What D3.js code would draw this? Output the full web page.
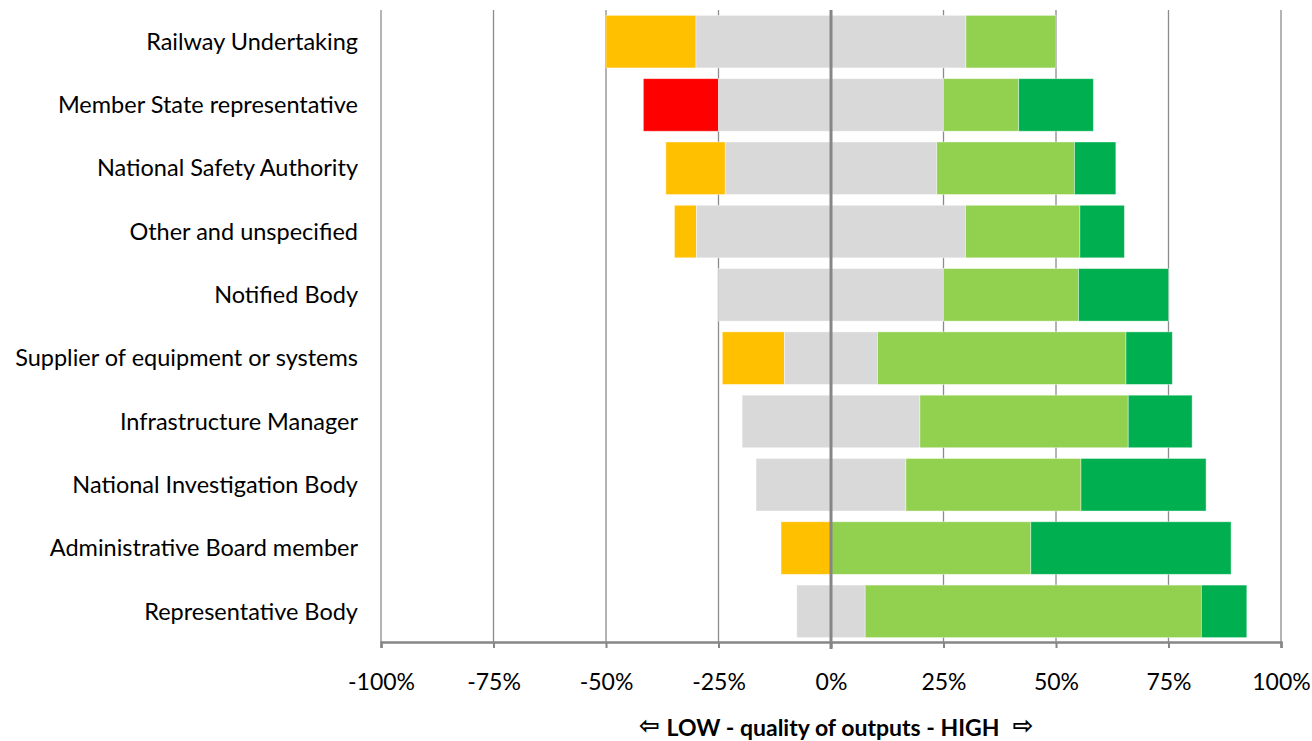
<!DOCTYPE html>
<html><head><meta charset="utf-8">
<script src="https://cdn.jsdelivr.net/npm/d3@7"></script>
<style>body{margin:0;background:#fff;}svg{display:block;}</style>
</head><body><svg id="c" width="1312" height="741"></svg>
<script>
const categories = ["Railway Undertaking","Member State representative","National Safety Authority","Other and unspecified","Notified Body","Supplier of equipment or systems","Infrastructure Manager","National Investigation Body","Administrative Board member","Representative Body"];
const veryLow  = [0, 16.7, 0, 0, 0, 0, 0, 0, 0, 0];
const low      = [20, 0, 13.2, 4.9, 0, 13.8, 0, 0, 11.1, 0];
const neutral  = [60, 50, 47, 59.8, 50, 20.7, 39.5, 33.3, 0, 15.2];
const high     = [20, 16.7, 30.6, 25.4, 30, 55.2, 46.3, 38.9, 44.4, 74.7];
const veryHigh = [0, 16.6, 9.2, 9.9, 20, 10.3, 14.2, 27.8, 44.5, 10.1];
const tickValues = [-100,-75,-50,-25,0,25,50,75,100];
const tickLabels = ["-100%","-75%","-50%","-25%","0%","25%","50%","75%","100%"];
const titleLeftArrow = "⇦";
const titleText = "LOW - quality of outputs - HIGH";
const titleRightArrow = "⇨";
const seriesColors = ["#FF0000","#FFC000","#D9D9D9","#92D050","#00B050"];

const svg = d3.select("#c");
const x = d3.scaleLinear().domain([-100,100]).range([381,1281]);
const y = d3.scaleBand().domain(categories).range([10,643]).paddingInner(0.17).paddingOuter(0.085);

// gridlines
svg.append("g").selectAll("line").data(tickValues.filter(v=>v!==0)).join("line")
  .attr("x1",d=>x(d)).attr("x2",d=>x(d)).attr("y1",10).attr("y2",642)
  .attr("stroke","#8c8c8c").attr("stroke-width",1.3);

// bars
const series = [veryLow, low, neutral, high, veryHigh];
const segs = [];
categories.forEach((c,i)=>{
  let start = -(veryLow[i] + low[i] + neutral[i]/2);
  series.forEach((s,k)=>{
    const v = s[i];
    if (v>0) segs.push({c, x0:start, x1:start+v, k});
    start += v;
  });
});
svg.append("g").selectAll("rect").data(segs).join("rect")
  .attr("x",d=>x(d.x0)).attr("width",d=>x(d.x1)-x(d.x0))
  .attr("y",d=>y(d.c)).attr("height",y.bandwidth())
  .attr("fill",d=>seriesColors[d.k])
  .attr("stroke","rgba(255,255,255,0.5)").attr("stroke-width",0.8);

// zero line
svg.append("line").attr("x1",x(0)).attr("x2",x(0)).attr("y1",10).attr("y2",649)
  .attr("stroke","#868686").attr("stroke-width",3);

// bottom axis
const ax = d3.axisBottom(x).tickValues(tickValues).tickFormat((d,i)=>tickLabels[i]).tickSize(6).tickPadding(26);
const g = svg.append("g").attr("transform","translate(0,642)").call(ax);
g.select(".domain").attr("stroke","#868686").attr("stroke-width",2.5);
g.selectAll(".tick line").attr("stroke","#868686").attr("stroke-width",2);
g.selectAll(".tick text").attr("font-family","Lato, 'Open Sans', sans-serif").attr("font-size","23px").attr("fill","#000");

// category labels
svg.append("g").selectAll("text").data(categories).join("text")
  .attr("x",358).attr("y",d=>y(d)+y.bandwidth()/2).attr("dy","0.35em")
  .attr("text-anchor","end").attr("font-family","Lato, 'Open Sans', sans-serif").attr("font-size","23.5px").attr("fill","#000")
  .text(d=>d);

// axis title (text + separate arrow glyphs)
const titleY = 728;
const tt = svg.append("text").attr("x",833).attr("y",titleY).attr("dy","0.35em").attr("text-anchor","middle")
  .attr("font-family","Lato, sans-serif").attr("font-weight","bold").attr("font-size","23px").attr("fill","#000")
  .text(titleText);
const bb = tt.node().getBBox();
svg.append("text").attr("x",bb.x-7).attr("y",734).attr("text-anchor","end")
  .attr("font-family","'DejaVu Sans', sans-serif").attr("font-weight","bold").attr("font-size","25px").attr("fill","#000")
  .text(titleLeftArrow);
svg.append("text").attr("x",bb.x+bb.width+13).attr("y",734).attr("text-anchor","start")
  .attr("font-family","'DejaVu Sans', sans-serif").attr("font-weight","bold").attr("font-size","25px").attr("fill","#000")
  .text(titleRightArrow);
</script></body></html>
